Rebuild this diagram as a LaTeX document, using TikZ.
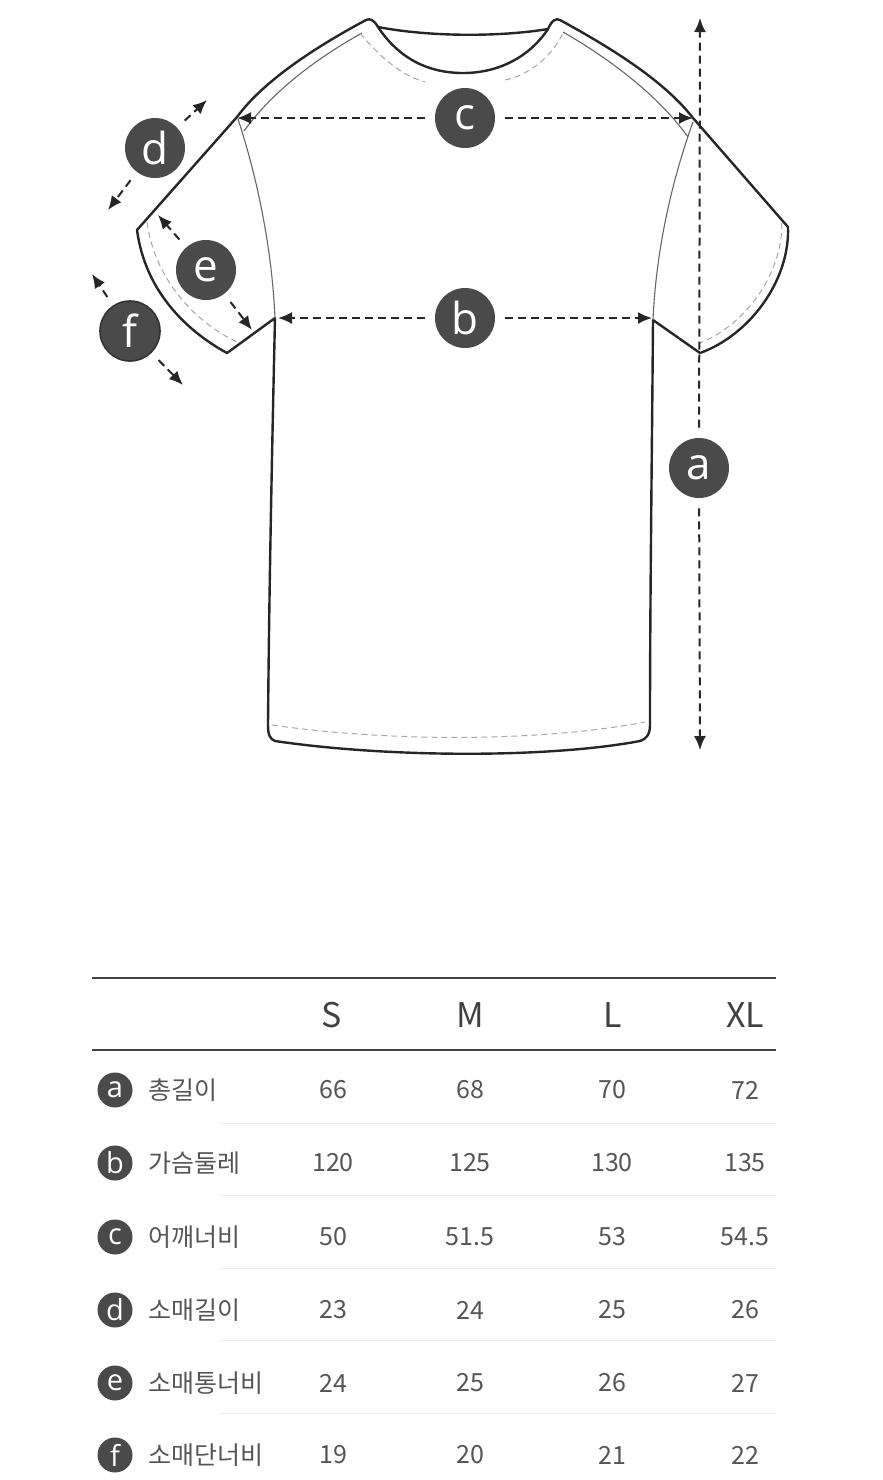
\documentclass[tikz,border=0pt]{standalone}
\usepackage{fontspec}
\newfontfamily\krfont{Noto Sans CJK KR}
\newfontfamily\letterfont{Open Sans}
\usetikzlibrary{arrows.meta}
\definecolor{badgegray}{HTML}{4A4A4A}
\definecolor{tabgray}{HTML}{555555}

\begin{document}
\begin{tikzpicture}[x=0.5pt,y=-0.5pt,
    outline/.style={line width=1.2pt,line join=round,black!85},
    seam/.style={line width=0.55pt,black!60},
    stitch/.style={line width=0.5pt,black!35,dash pattern=on 3pt off 2pt},
    measure/.style={line width=1pt,black!85,dash pattern=on 4pt off 2.5pt,
      -{Latex[length=7pt,width=6pt]},shorten <=5pt},
    bigbadge/.style={circle,fill=badgegray,text=white,minimum size=30pt,inner sep=0pt,
      font=\letterfont\fontsize{22}{22}\selectfont},
    badge/.style={circle,fill=badgegray,text=white,minimum size=17.5pt,inner sep=0pt,
      font=\letterfont\fontsize{14.5}{14.5}\selectfont},
    head/.style={text=black!75,font=\krfont\fontsize{17}{17}\selectfont},
    cell/.style={text=tabgray,font=\krfont\fontsize{12.5}{12.5}\selectfont},
    label/.style={anchor=west,text=tabgray,font=\krfont\fontsize{12.5}{12.5}\selectfont,inner sep=0pt}]
   \useasboundingbox (0,0) rectangle (883,1480);
   \begin{scope}
    \draw[outline] (237,117) .. controls (262,83) and (310,50) .. (366,20)
      .. controls (370,18) and (374,20) .. (378,27)
      .. controls (400,60) and (430,73) .. (463,73)
      .. controls (500,73) and (530,56) .. (548,29)
      .. controls (552,20) and (556,18) .. (560,20)
      .. controls (615,50) and (665,82) .. (693,118)
      -- (788,227)
      .. controls (790,280) and (750,335) .. (700,353)
      -- (653,320)
      .. controls (652,450) and (650,600) .. (650,725)
      .. controls (650,735) and (646,739) .. (640,741)
      .. controls (550,758) and (390,758) .. (275,741)
      .. controls (270,739) and (268,735) .. (268,725)
      .. controls (269,600) and (272,450) .. (275,318)
      -- (227,353)
      .. controls (185,330) and (145,290) .. (137,230)
      -- cycle;
    \draw[outline] (378,27) .. controls (430,37) and (500,37) .. (548,29);
    \draw[seam] (238,119) .. controls (258,180) and (272,250) .. (275,318);
    \draw[seam] (693,122) .. controls (672,180) and (656,250) .. (653,320);
    \draw[seam] (362,33) .. controls (310,62) and (270,95) .. (244,131);
    \draw[seam] (563,32) .. controls (615,62) and (660,98) .. (688,137);
    \draw[stitch] (360,33) .. controls (378,55) and (400,75) .. (425,82);
    \draw[stitch] (505,80) .. controls (530,75) and (553,55) .. (563,33);
    \draw[stitch] (147,222) .. controls (155,280) and (195,322) .. (237,342);
    \draw[stitch] (782,223) .. controls (782,275) and (745,325) .. (700,343);
    \draw[stitch] (272,725) .. controls (390,742) and (540,742) .. (645,722);
   \end{scope}
   \coordinate (cl) at (237,118);
   \coordinate (cr) at (693,118);
   \coordinate (bl) at (278,318);
   \coordinate (br) at (652,318);
   \coordinate (at) at (700,18);
   \coordinate (ab) at (700,750);
   \coordinate (du) at (207,100);
   \coordinate (dd) at (108,210);
   \coordinate (eu) at (158,215);
   \coordinate (ed) at (252,330);
   \coordinate (fu) at (92,274);
   \coordinate (fd) at (183,385);
   \node[bigbadge] (c) at (465,118) {c};
   \node[bigbadge] (b) at (465,318) {b};
   \node[bigbadge] (a) at (699,468) {a};
   \node[bigbadge] (d) at (155,148) {d};
   \node[bigbadge] (e) at (206,270) {e};
   \node[bigbadge,draw=black!80,line width=0.8pt] (f) at (130,331) {f};
   \draw[measure] (c) -- (cl);
   \draw[measure] (c) -- (cr);
   \draw[measure] (b) -- (bl);
   \draw[measure] (b) -- (br);
   \draw[measure] (a) -- (at);
   \draw[measure] (a) -- (ab);
   \draw[measure] (d) -- (du);
   \draw[measure] (d) -- (dd);
   \draw[measure] (e) -- (eu);
   \draw[measure] (e) -- (ed);
   \draw[measure] (f) -- (fu);
   \draw[measure] (f) -- (fd);
   \draw[line width=1pt,black!75] (92,978) -- (776,978);
   \draw[line width=1pt,black!75] (92,1050) -- (776,1050);
   \draw[line width=0.5pt,black!8] (220,1123) -- (776,1123);
   \draw[line width=0.5pt,black!8] (220,1195) -- (776,1195);
   \draw[line width=0.5pt,black!8] (220,1268) -- (776,1268);
   \draw[line width=0.5pt,black!8] (220,1340) -- (776,1340);
   \draw[line width=0.5pt,black!8] (220,1413) -- (776,1413);
   \node[head] (hs) at (332,1015) {S};
   \node[head] (hm) at (470,1015) {M};
   \node[head] (hl) at (613,1015) {L};
   \node[head] (hxl) at (745,1015) {XL};
   \node[badge] (ta) at (115,1090) {a};
   \node[label] (la) at (148,1090) {총길이};
   \node[cell] (sa) at (333,1090) {66};
   \node[cell] (ma) at (470,1090) {68};
   \node[cell] (lla) at (612,1090) {70};
   \node[cell] (xla) at (745,1090) {72};
   \node[badge] (tb) at (115,1163) {b};
   \node[label] (lb) at (148,1163) {가슴둘레};
   \node[cell] (sb) at (333,1163) {120};
   \node[cell] (mb) at (470,1163) {125};
   \node[cell] (llb) at (612,1163) {130};
   \node[cell] (xlb) at (745,1163) {135};
   \node[badge] (tc) at (115,1237) {c};
   \node[label] (lc) at (148,1237) {어깨너비};
   \node[cell] (sc) at (333,1237) {50};
   \node[cell] (mc) at (470,1237) {51.5};
   \node[cell] (llc) at (612,1237) {53};
   \node[cell] (xlc) at (745,1237) {54.5};
   \node[badge] (td) at (115,1310) {d};
   \node[label] (ld) at (148,1310) {소매길이};
   \node[cell] (sd) at (333,1310) {23};
   \node[cell] (md) at (470,1310) {24};
   \node[cell] (lld) at (612,1310) {25};
   \node[cell] (xld) at (745,1310) {26};
   \node[badge] (te) at (115,1383) {e};
   \node[label] (le) at (148,1383) {소매통너비};
   \node[cell] (se) at (333,1383) {24};
   \node[cell] (me) at (470,1383) {25};
   \node[cell] (lle) at (612,1383) {26};
   \node[cell] (xle) at (745,1383) {27};
   \node[badge] (tf) at (115,1455) {f};
   \node[label] (lf) at (148,1455) {소매단너비};
   \node[cell] (sf) at (333,1455) {19};
   \node[cell] (mf) at (470,1455) {20};
   \node[cell] (llf) at (612,1455) {21};
   \node[cell] (xlf) at (745,1455) {22};
  \end{tikzpicture}
\end{document}
